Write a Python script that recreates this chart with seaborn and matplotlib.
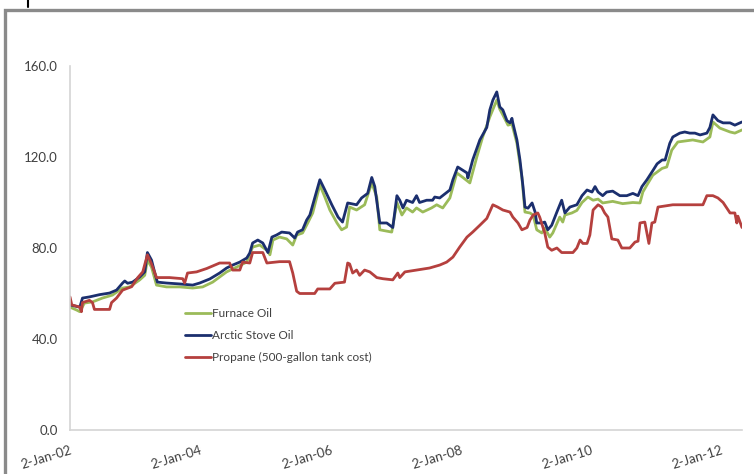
import matplotlib
matplotlib.use("Agg")
import matplotlib.pyplot as plt
import matplotlib.dates as mdates
from matplotlib.patches import Rectangle
from matplotlib.lines import Line2D
import pandas as pd
import seaborn as sns

# ---- series ---------------------------------------------------------------
furnace_dates = [
    "2002-01-02", "2002-02-09", "2002-02-26", "2002-03-24", "2002-05-08", "2002-07-03",
    "2002-08-28", "2002-10-24", "2002-12-03", "2003-01-28", "2003-02-25", "2003-03-12",
    "2003-04-04", "2003-05-02", "2003-06-27", "2003-09-09", "2003-11-21", "2004-01-16",
    "2004-03-12", "2004-05-29", "2004-07-24", "2004-09-19", "2004-10-22", "2004-12-01",
    "2005-01-10", "2005-01-27", "2005-02-13", "2005-03-22", "2005-05-01", "2005-06-04",
    "2005-06-26", "2005-07-29", "2005-08-27", "2005-09-24", "2005-11-03", "2005-12-01",
    "2005-12-29", "2006-02-07", "2006-03-05", "2006-04-02", "2006-04-19", "2006-05-28",
    "2006-07-12", "2006-08-21", "2006-09-18", "2006-10-05", "2006-12-11", "2007-01-09",
    "2007-02-06", "2007-03-04", "2007-04-07", "2007-04-29", "2007-06-03", "2007-07-22",
    "2007-08-20", "2007-09-23", "2007-11-02", "2007-12-11", "2008-01-14", "2008-02-22",
    "2008-04-01", "2008-05-04", "2008-06-13", "2008-07-22", "2008-08-08", "2008-08-25",
    "2008-09-23", "2008-10-15", "2008-11-12", "2008-12-10", "2008-12-27", "2009-01-24",
    "2009-02-11", "2009-03-03", "2009-04-01", "2009-04-17", "2009-05-15", "2009-06-01",
    "2009-07-10", "2009-07-27", "2009-08-08", "2009-09-16", "2009-10-14", "2009-11-12",
    "2009-12-15", "2010-01-13", "2010-02-10", "2010-03-08", "2010-05-03", "2010-06-28",
    "2010-08-24", "2010-10-03", "2010-10-19", "2010-11-11", "2010-12-14", "2011-02-04",
    "2011-03-02", "2011-03-30", "2011-05-03", "2011-07-26", "2011-09-21", "2011-10-30",
    "2011-11-16", "2011-12-25", "2012-02-20", "2012-03-18", "2012-04-27",
]
furnace_oil = [
    54, 52.7, 52, 55.8, 56.3, 58,
    59.3, 62.4, 62.9, 66, 68, 74.7,
    71.6, 63.7, 62.9, 62.9, 62.4, 62.9,
    65, 69.5, 71.6, 73.8, 80.4, 81.3,
    79, 77, 83.5, 84.8, 84, 81.3,
    85.7, 86.6, 91, 95.4, 107.7, 102.4,
    96.7, 91, 88, 89.2, 98, 96.7,
    99, 108.6, 102.4, 88, 87, 100,
    94.5, 97.6, 95.8, 97.6, 95.8, 97.6,
    99, 97.6, 102, 113, 111, 108.6,
    120, 128.8, 137.6, 145, 141, 138.5,
    134, 134.5, 126, 111, 95.8, 95.4,
    94.5, 88, 86.6, 88.8, 84.8, 86.6,
    93.6, 91.4, 94.5, 95.4, 96.5, 100,
    102.4, 101, 101.5, 99.8, 100.5, 99.5,
    100, 99.8, 104.6, 107.7, 112, 115,
    115.6, 123, 126.6, 127.5, 126.6, 128.8,
    135.4, 132.7, 131, 130.5, 131.9,
]

arctic_dates = [
    "2002-01-02", "2002-02-26", "2002-03-13", "2002-04-21", "2002-06-17", "2002-08-12",
    "2002-09-20", "2002-10-24", "2002-11-05", "2002-11-21", "2002-12-19", "2003-01-28",
    "2003-02-25", "2003-03-12", "2003-04-04", "2003-04-21", "2003-05-07", "2003-06-27",
    "2003-09-09", "2003-11-21", "2003-12-30", "2004-02-25", "2004-04-20", "2004-05-29",
    "2004-07-02", "2004-08-11", "2004-09-19", "2004-10-06", "2004-10-22", "2004-11-20",
    "2004-12-18", "2005-01-16", "2005-02-07", "2005-03-05", "2005-04-03", "2005-05-17",
    "2005-06-15", "2005-07-01", "2005-07-29", "2005-08-21", "2005-09-08", "2005-10-05",
    "2005-11-03", "2005-12-01", "2006-01-09", "2006-02-13", "2006-03-10", "2006-04-08",
    "2006-05-28", "2006-06-25", "2006-07-29", "2006-08-21", "2006-09-07", "2006-10-05",
    "2006-11-13", "2006-12-17", "2007-01-09", "2007-01-25", "2007-02-12", "2007-03-04",
    "2007-04-07", "2007-04-29", "2007-05-16", "2007-06-25", "2007-07-28", "2007-08-09",
    "2007-09-06", "2007-11-02", "2007-11-19", "2007-12-16", "2008-02-06", "2008-02-11",
    "2008-03-09", "2008-04-18", "2008-05-27", "2008-06-13", "2008-06-30", "2008-07-22",
    "2008-08-08", "2008-08-25", "2008-09-17", "2008-10-04", "2008-10-15", "2008-10-20",
    "2008-11-12", "2008-11-29", "2008-12-16", "2008-12-27", "2009-01-13", "2009-02-05",
    "2009-02-22", "2009-03-03", "2009-04-01", "2009-04-17", "2009-05-04", "2009-05-26",
    "2009-06-24", "2009-07-21", "2009-08-08", "2009-09-05", "2009-10-14", "2009-11-12",
    "2009-12-10", "2010-01-07", "2010-01-24", "2010-02-10", "2010-03-08", "2010-03-30",
    "2010-05-03", "2010-06-12", "2010-07-21", "2010-08-24", "2010-09-22", "2010-10-14",
    "2010-11-11", "2010-12-14", "2011-01-07", "2011-02-04", "2011-02-21", "2011-03-19",
    "2011-04-05", "2011-05-14", "2011-06-11", "2011-07-09", "2011-08-07", "2011-09-05",
    "2011-10-13", "2011-10-30", "2011-11-16", "2011-12-14", "2012-01-12", "2012-02-20",
    "2012-03-18", "2012-04-27",
]
arctic_stove_oil = [
    55, 54, 58, 58.5, 59.5, 60.2,
    61.5, 64.6, 65.5, 64.5, 65, 67.3,
    69.5, 78, 74.7, 69.5, 65, 64.6,
    64.2, 63.7, 64.6, 66.4, 69, 71.2,
    72.5, 73.8, 75.6, 77.8, 82.2, 83.5,
    82.2, 78, 84.8, 85.7, 87, 86.6,
    84.4, 87, 88, 92.3, 94.5, 102,
    110, 105.5, 99, 93.6, 91.4, 99.8,
    99, 102, 104, 111, 107, 91,
    91, 89, 103, 101, 97.6, 101,
    100, 103, 100, 101, 101, 102.4,
    102, 105.5, 110, 115.6, 113, 110.8,
    118.7, 127.5, 133, 140.7, 145, 148.6,
    142, 140.7, 136, 135, 137, 135,
    127.5, 118.7, 107, 98, 97.5, 99.8,
    95.8, 91, 91, 91.4, 88, 90,
    95.8, 101, 95.4, 98, 99, 103,
    105.5, 104.6, 107, 104.6, 103, 104.6,
    105, 103, 103, 104, 103, 107,
    110, 114, 117, 118.7, 118.7, 126,
    128.8, 130.5, 131, 130.5, 130.5, 129.7,
    130.5, 133, 138.5, 136, 135, 135,
    134, 135.4,
]

propane_dates = [
    "2002-01-02", "2002-01-12", "2002-02-26", "2002-03-07", "2002-03-13", "2002-04-21",
    "2002-05-08", "2002-05-19", "2002-08-12", "2002-08-23", "2002-09-20", "2002-10-24",
    "2002-12-14", "2003-01-17", "2003-02-14", "2003-03-12", "2003-04-04", "2003-05-02",
    "2003-07-14", "2003-09-26", "2003-10-07", "2003-10-23", "2003-12-13", "2004-02-08",
    "2004-04-20", "2004-06-15", "2004-07-02", "2004-08-11", "2004-08-27", "2004-10-06",
    "2004-10-22", "2004-12-18", "2005-01-10", "2005-03-22", "2005-05-17", "2005-06-04",
    "2005-06-26", "2005-07-13", "2005-10-05", "2005-10-22", "2005-12-29", "2006-01-26",
    "2006-03-21", "2006-04-08", "2006-04-19", "2006-05-06", "2006-05-28", "2006-06-14",
    "2006-07-12", "2006-08-10", "2006-09-18", "2006-10-22", "2006-12-17", "2007-01-14",
    "2007-01-25", "2007-02-23", "2007-04-29", "2007-07-11", "2007-09-06", "2007-10-15",
    "2007-11-19", "2007-12-27", "2008-02-06", "2008-03-09", "2008-04-18", "2008-05-27",
    "2008-06-30", "2008-07-27", "2008-08-25", "2008-10-04", "2008-10-20", "2008-11-18",
    "2008-12-10", "2009-01-08", "2009-01-24", "2009-02-11", "2009-03-09", "2009-03-20",
    "2009-04-17", "2009-05-04", "2009-05-26", "2009-06-24", "2009-07-21", "2009-09-22",
    "2009-10-14", "2009-11-01", "2009-11-17", "2009-12-10", "2009-12-26", "2010-01-13",
    "2010-02-10", "2010-03-02", "2010-03-19", "2010-04-06", "2010-04-28", "2010-06-01",
    "2010-06-23", "2010-08-07", "2010-09-05", "2010-09-22", "2010-10-03", "2010-10-30",
    "2010-11-22", "2010-12-09", "2010-12-25", "2011-01-12", "2011-04-05", "2011-09-21",
    "2011-10-13", "2011-11-16", "2011-12-14", "2012-01-12", "2012-02-20", "2012-03-18",
    "2012-03-29", "2012-04-04", "2012-04-27",
]
propane_500gal = [
    58.5, 55, 54, 52, 56, 57,
    56, 53, 53, 56, 58, 61.5,
    63, 67, 69.5, 77, 73, 67,
    67, 66.5, 64.6, 69, 69.5, 71,
    73.4, 73.4, 70.3, 70.3, 73.8, 73.4,
    78, 78, 73.4, 74, 74, 69,
    61, 60, 60, 62, 62, 64.5,
    65, 73.4, 73, 69, 70.3, 68,
    70.3, 69.5, 67, 66.5, 66, 69,
    67, 69.5, 70.3, 71.2, 72.5, 73.8,
    76, 80.4, 84.8, 87, 90, 93,
    99, 98, 96.7, 95.8, 93.6, 91,
    88, 89, 92.3, 94.5, 95.4, 93.5,
    86.6, 80.4, 79, 80, 78, 78,
    80, 83.5, 82, 82, 85.7, 96.7,
    99, 98, 95.4, 93.6, 84, 83.5,
    80, 80, 82.6, 83, 91, 91.4,
    82, 91, 91.4, 98, 99, 99,
    103, 103, 102, 100, 95.4, 95.4,
    91, 94, 89,
]

series_names = ["Furnace Oil", "Arctic Stove Oil", "Propane (500-gallon tank cost)"]
series_colors = ["#9BBB59", "#1B2F6E", "#B5403E"]

tick_dates = ["2002-01-02", "2004-01-02", "2006-01-02", "2008-01-02", "2010-01-02", "2012-01-02"]
tick_labels = ["2-Jan-02", "2-Jan-04", "2-Jan-06", "2-Jan-08", "2-Jan-10", "2-Jan-12"]
y_ticks = [0, 40, 80, 120, 160]

# ---- long-form table ------------------------------------------------------
frames = []
for name, dates, vals in zip(series_names,
                             [furnace_dates, arctic_dates, propane_dates],
                             [furnace_oil, arctic_stove_oil, propane_500gal]):
    frames.append(pd.DataFrame({"date": pd.to_datetime(dates), "price": vals, "fuel": name}))
df = pd.concat(frames, ignore_index=True)

# ---- figure ---------------------------------------------------------------
sns.set_style("white")
plt.rcParams["font.family"] = ["Lato", "DejaVu Sans"]

W, H = 754, 474
fig = plt.figure(figsize=(W / 100, H / 100), dpi=100)
ax = fig.add_axes([70 / W, 1 - 430 / H, (742 - 70) / W, (430 - 66) / H])

sns.lineplot(data=df, x="date", y="price", hue="fuel", hue_order=series_names,
             palette=dict(zip(series_names, series_colors)), estimator=None,
             linewidth=2.0, ax=ax)

ax.set_xlim(pd.Timestamp(furnace_dates[0]), pd.Timestamp(furnace_dates[-1]))
ax.set_ylim(0, 160)
ax.set_xlabel("")
ax.set_ylabel("")

ax.set_yticks(y_ticks)
ax.set_yticklabels([f"{v:.1f}" for v in y_ticks])
ax.set_xticks([mdates.date2num(pd.Timestamp(d)) for d in tick_dates])
ax.set_xticklabels(tick_labels, rotation=17, ha="right", va="top",
                   rotation_mode="anchor")
ax.tick_params(axis="y", length=0, pad=9, labelsize=9.5, labelcolor="#404040")
ax.tick_params(axis="x", length=0, pad=10, labelsize=9.5, labelcolor="#404040")

for side in ["top", "right"]:
    ax.spines[side].set_visible(False)
for side in ["left", "bottom"]:
    ax.spines[side].set_color("#D4D4D4")
    ax.spines[side].set_linewidth(1.2)

handles, labels = ax.get_legend_handles_labels()
leg = ax.legend(handles, labels, loc="upper left",
                bbox_to_anchor=(185 / W, 1 - 308 / H), bbox_transform=fig.transFigure,
                frameon=False, fontsize=8.5, handlelength=2.2, handletextpad=0.05,
                labelspacing=0.95, borderpad=0, borderaxespad=0)
for t in leg.get_texts():
    t.set_color("#404040")

# outer frame of the chart area and the small mark above it
fig.add_artist(Rectangle((5 / W, -0.05), 1.1, 1 - 10 / H + 0.05,
                         transform=fig.transFigure, fill=False,
                         edgecolor="#8A8A8A", linewidth=2.4, clip_on=False))
fig.add_artist(Line2D([28 / W, 28 / W], [1.0, 1 - 7 / H], transform=fig.transFigure,
                      color="black", linewidth=1.5))

fig.savefig("out.png", dpi=100, facecolor="white")
